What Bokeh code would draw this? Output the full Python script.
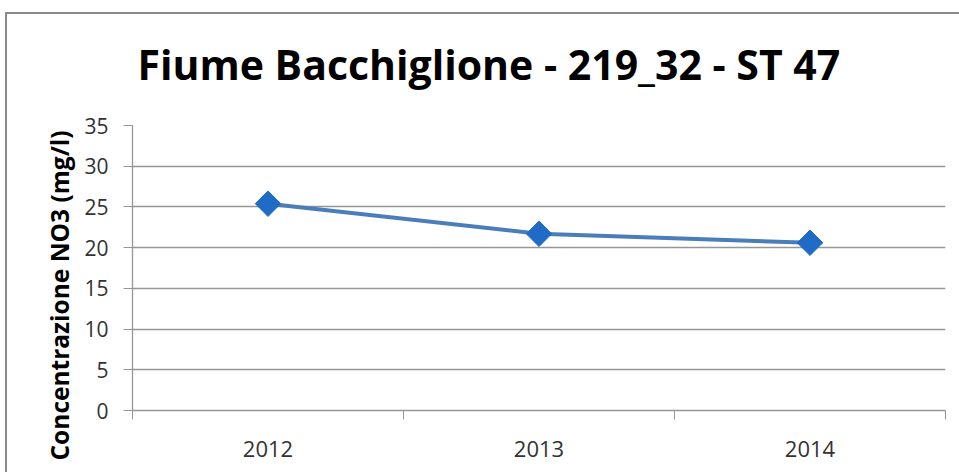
import math
from bokeh.plotting import figure
from bokeh.models import Range1d, FixedTicker, Title, InlineStyleSheet
from bokeh.embed import file_html
from bokeh.resources import INLINE

# ---- data ----
years = ["2012", "2013", "2014"]
no3 = [25.4, 21.7, 20.6]
y_ticks = [0, 5, 10, 15, 20, 25, 30, 35]
title_text = "Fiume Bacchiglione - 219_32 - ST 47"
y_label_text = "Concentrazione NO3 (mg/l)"

x_pos = [i + 0.5 for i in range(len(years))]

W, H = 959, 472
grey = "#969696"
border_grey = "#8a8a8a"
g = "linear-gradient(" + border_grey + ", " + border_grey + ")"
host_styles = {
    "background-image": g + ", " + g,
    "background-repeat": "no-repeat",
    "background-position": "right " + str(W - 7) + "px top 12px, left 5px top 12px",
    "background-size": "2px 100%, 100% 2px",
}
# white cover for the strip right of the plot area (keeps it blank like the original)
cover_css = InlineStyleSheet(css=(
    ":host::after { content: ''; position: absolute; left: 946px; top: 15px; "
    "width: 13px; height: 457px; background: #ffffff; z-index: 1000; "
    "pointer-events: none; }"
))

p = figure(width=W, height=H, output_backend="svg", toolbar_location=None,
           x_range=Range1d(0, len(years)), y_range=Range1d(0, max(y_ticks)),
           min_border_left=132, min_border_right=14, min_border_top=124,
           min_border_bottom=62, styles=host_styles, stylesheets=[cover_css])
p.outline_line_color = None
p.background_fill_color = "white"
p.border_fill_alpha = 0

# title
p.title.text = title_text
p.title.align = "left"
p.title.offset = 5
p.title.standoff = 67
p.title.text_font = "Open Sans"
p.title.text_font_style = "bold"
p.title.text_font_size = "41px"
p.title.text_color = "black"

# y axis label as a side title
p.add_layout(Title(text=y_label_text, align="left", offset=-50, standoff=11,
                   text_font="Open Sans", text_font_style="bold", text_font_size="24.5px",
                   text_color="black"), "left")

# x axis
p.xaxis.ticker = FixedTicker(ticks=x_pos, minor_ticks=list(range(len(years) + 1)))
p.xaxis.major_label_overrides = {x: y for x, y in zip(x_pos, years)}
p.xaxis.major_tick_out = 0
p.xaxis.major_tick_in = 0
p.xaxis.minor_tick_out = 9
p.xaxis.minor_tick_in = 0
p.xaxis.minor_tick_line_color = grey
p.xaxis.axis_line_color = grey
p.xaxis.axis_line_width = 1.3
p.xaxis.major_label_standoff = 21
p.xaxis.major_label_text_font = "Open Sans"
p.xaxis.major_label_text_font_size = "22px"
p.xaxis.major_label_text_color = "#333333"

# y axis
p.yaxis.ticker = FixedTicker(ticks=y_ticks, minor_ticks=[])
p.yaxis.major_tick_out = 9
p.yaxis.major_tick_in = 0
p.yaxis.major_tick_line_color = grey
p.yaxis.axis_line_color = grey
p.yaxis.axis_line_width = 1.3
p.yaxis.major_label_standoff = 15
p.yaxis.major_label_text_font = "Open Sans"
p.yaxis.major_label_text_font_size = "21px"
p.yaxis.major_label_text_color = "#333333"

p.xgrid.visible = False
p.ygrid.grid_line_color = grey
p.ygrid.grid_line_width = 1.3

# series
p.line(x_pos, no3, line_color="#4A7EBB", line_width=4)
p.scatter(x_pos, no3, marker="square", size=18, angle=math.pi / 4,
          fill_color="#1F6BC5", line_color="#1F6BC5")

open("out.html", "w").write(file_html(p, INLINE))
